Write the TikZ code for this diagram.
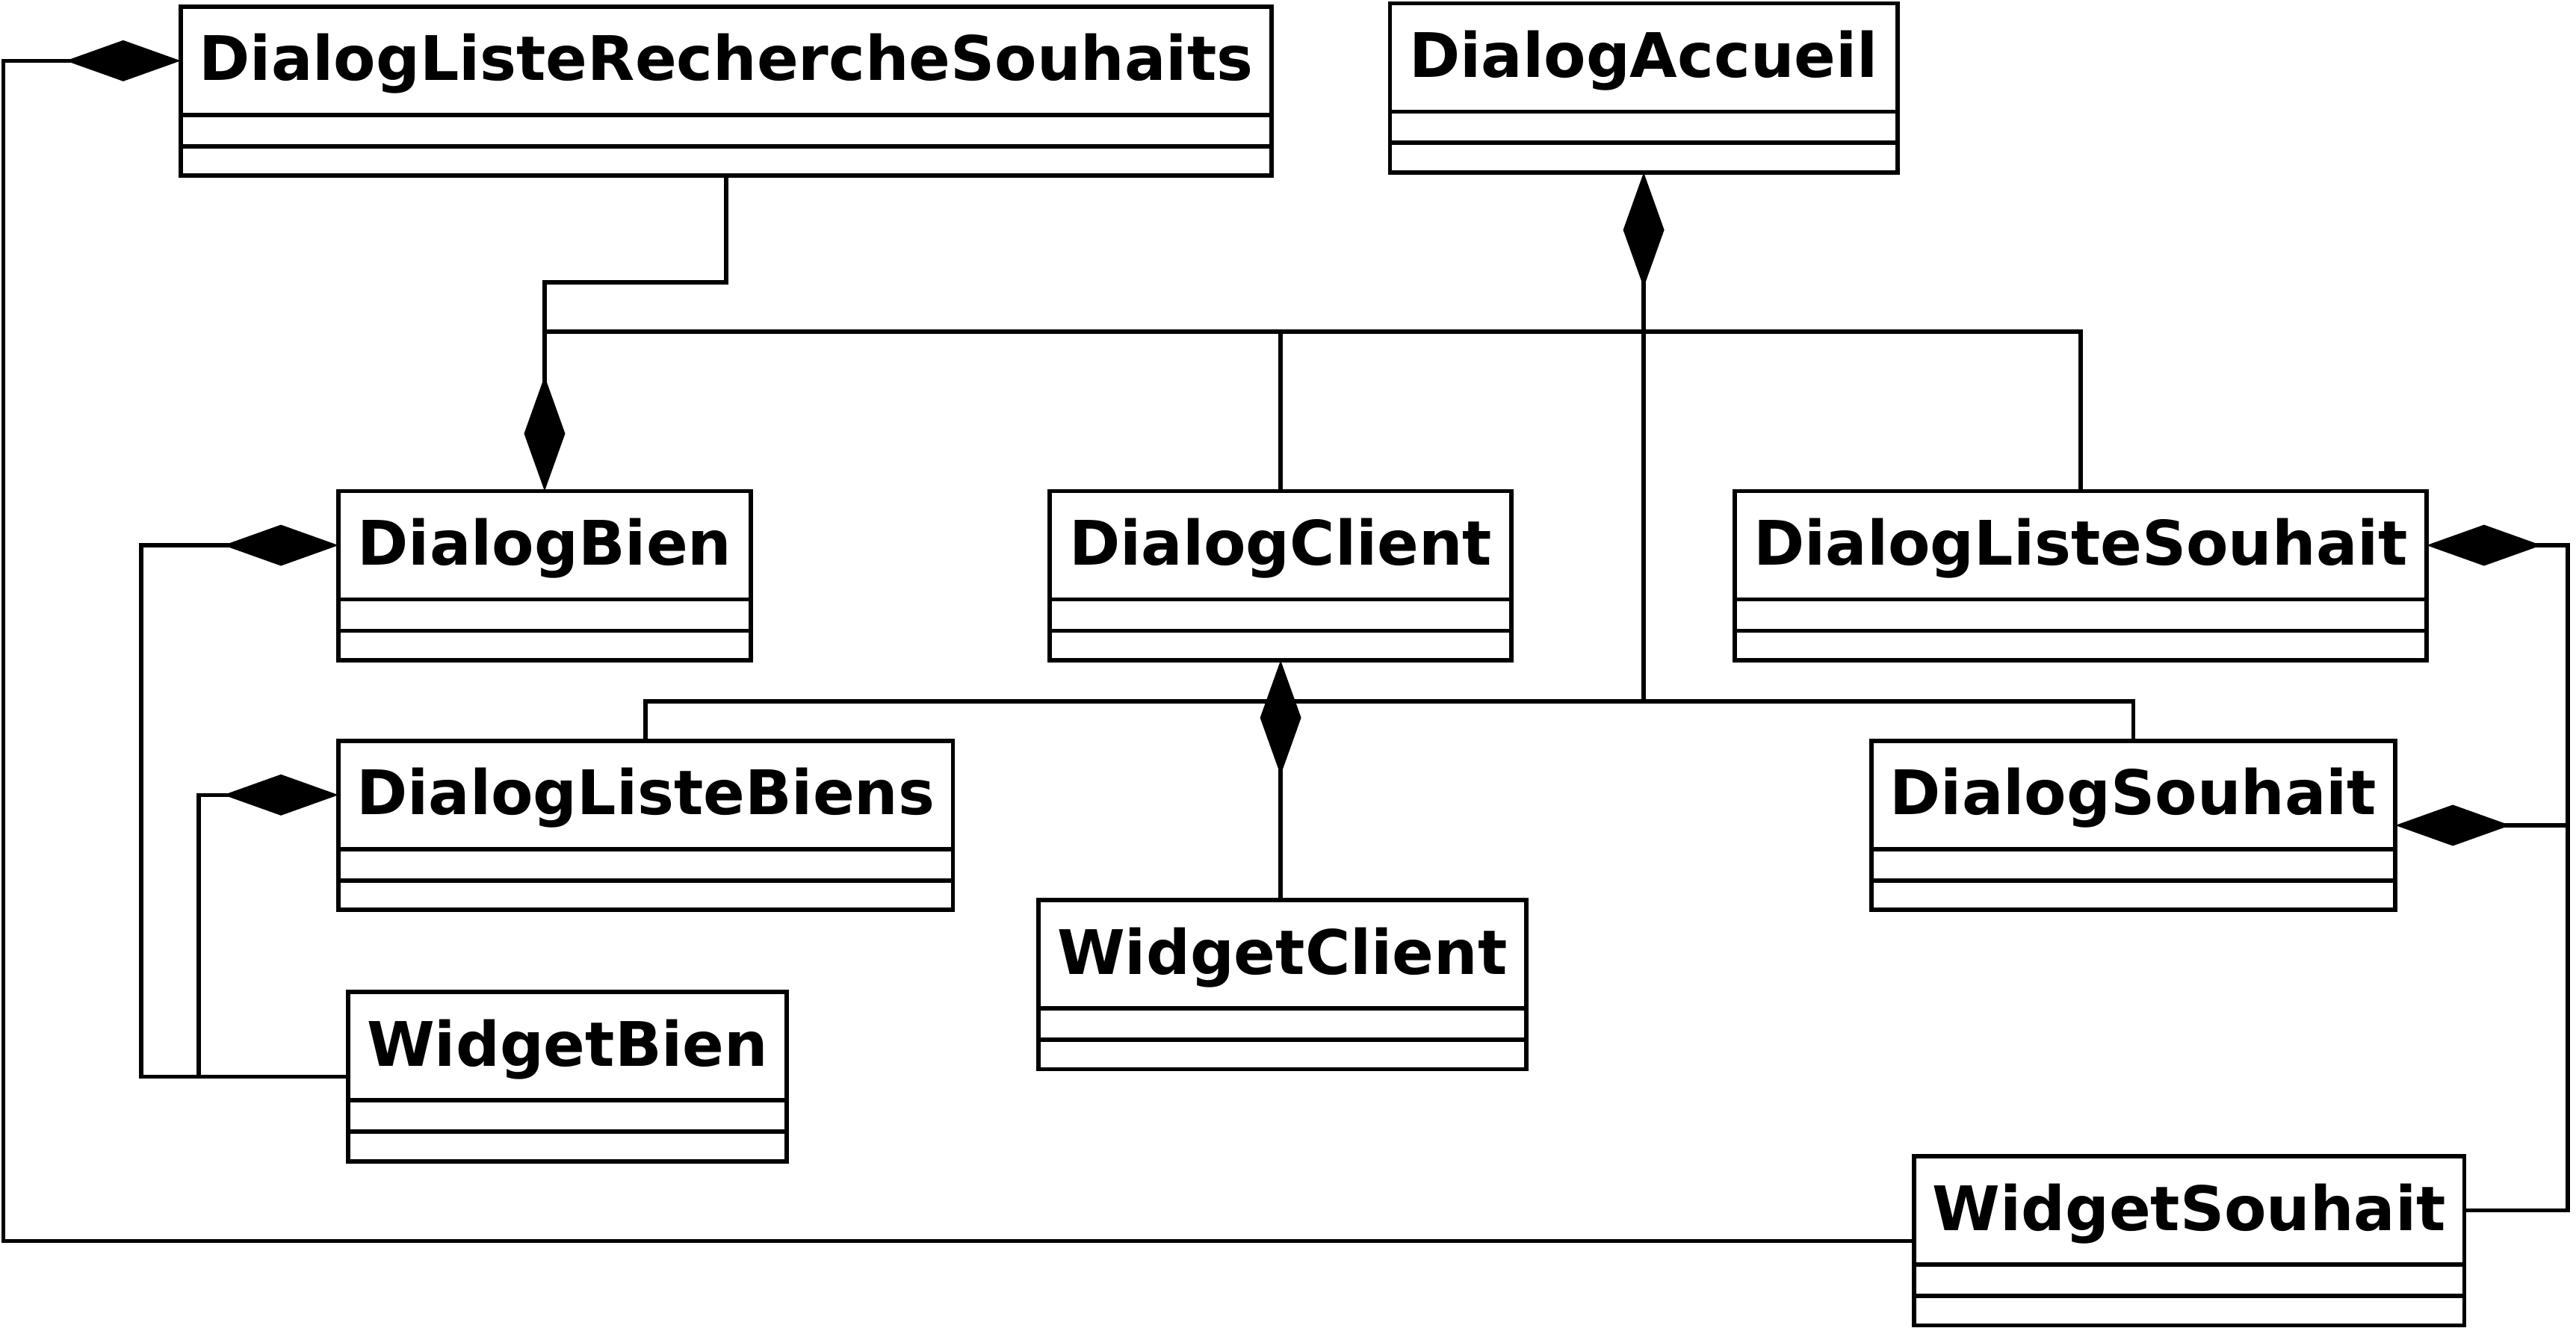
\documentclass[tikz,border=0pt]{standalone}
\usepackage{fontspec}
\setmainfont{DejaVu Sans}
\usetikzlibrary{arrows.meta,calc}
\tikzset{
  clsbox/.style={draw, line width=2.6pt, rectangle, inner sep=0pt, outer sep=0pt, minimum height=103pt},
  clsline/.style={line width=2.6pt},
  clstext/.style={anchor=base, inner sep=0pt, font=\fontsize{37.4}{44}\selectfont\bfseries},
  conn/.style={line width=2.5pt},
  compstart/.style={conn, {Diamond[length=70pt,width=25pt]}-},
  compend/.style={conn, -{Diamond[length=70pt,width=25pt]}},
}
\newcommand{\umlclassbox}[5]{%
  \node[clsbox, minimum width=#4pt, anchor=north west] (#1) at (#2,#3) {};
  \draw[clsline] ($(#1.north west)+(0,66)$) -- ($(#1.north east)+(0,66)$);
  \draw[clsline] ($(#1.north west)+(0,85)$) -- ($(#1.north east)+(0,85)$);
  \node[clstext] (#1-t) at ($(#1.north)+(0,45)$) {#5};
}
\begin{document}
\begin{tikzpicture}[x=1pt, y=-1pt]
\useasboundingbox (0,0) rectangle (1568,810);
% classes
\umlclassbox{dlrs}{110}{4}{664}{DialogListeRechercheSouhaits}
\umlclassbox{dacc}{846}{2}{309}{DialogAccueil}
\umlclassbox{dbien}{206}{299}{251}{DialogBien}
\umlclassbox{dclient}{639}{299}{281}{DialogClient}
\umlclassbox{dlsouhait}{1056}{299}{421}{DialogListeSouhait}
\umlclassbox{dlbiens}{206}{451}{374}{DialogListeBiens}
\umlclassbox{dsouhait}{1139}{451}{319}{DialogSouhait}
\umlclassbox{wclient}{632}{548}{297}{WidgetClient}
\umlclassbox{wbien}{212}{604}{267}{WidgetBien}
\umlclassbox{wsouhait}{1165}{704}{335}{WidgetSouhait}
% helper coordinates
\coordinate (h1) at (0,202);
\coordinate (h2) at (0,427);
\coordinate (rx) at (1563,0);
% DialogListeRechercheSouhaits -> DialogBien
\draw[compend] (dlrs.south) -- ++(0,65) -| (dbien.north);
% DialogAccueil composition
\draw[compstart] (dacc.south) -- (dacc.south |- h2);
\draw[conn] (dbien.north |- h1) -| (dlsouhait.north);
\draw[conn] (dclient.north |- h1) -- (dclient.north);
\draw[conn] (dlbiens.north) |- (dsouhait.north |- h2) -- (dsouhait.north);
% DialogClient -> WidgetClient
\draw[compstart] (dclient.south) -- (dclient.south |- wclient.north);
% DialogBien / DialogListeBiens -> WidgetBien
\draw[compstart] ($(dbien.north west)+(0,33)$) -- ++(-120,0) |- (wbien.west);
\draw[compstart] ($(dlbiens.north west)+(0,33)$) -- ++(-85,0) |- (wbien.west);
% DialogListeSouhait / DialogSouhait -> WidgetSouhait
\draw[compstart] ($(dlsouhait.north east)+(0,33)$) -- ++(86,0) |- ($(wsouhait.north east)+(0,33)$);
\draw[compstart] (dsouhait.east) -- (dsouhait.east -| rx);
% DialogListeRechercheSouhaits -> WidgetSouhait
\draw[compstart] ($(dlrs.north west)+(0,33)$) -- ++(-108,0) |- (wsouhait.west);
\end{tikzpicture}
\end{document}
